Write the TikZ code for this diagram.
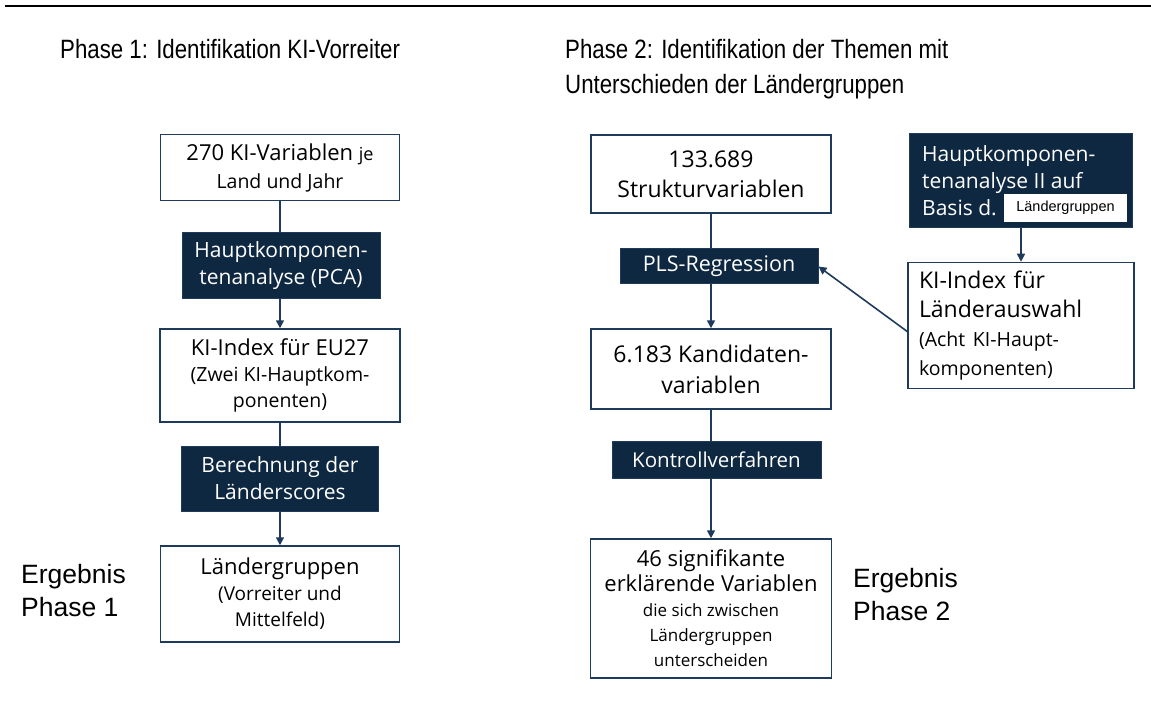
\documentclass[tikz,border=0pt]{standalone}
\usepackage{fontspec}
\setmainfont{Open Sans}
\newfontfamily\boxfont{Open Sans}
\newfontfamily\arialfont{Liberation Sans}
\newfontfamily\titlefont[FakeStretch=0.84]{Liberation Sans}
\usetikzlibrary{arrows.meta,calc}
\definecolor{navy}{HTML}{0E2841}
\definecolor{edgec}{HTML}{1F3B5C}
\newcommand\fsz[2]{\fontsize{#1}{#2}\selectfont}
\begin{document}
\begin{tikzpicture}[x=1pt,y=-1pt,
 wbox/.style={draw=edgec, line width=1.5pt, fill=white, inner sep=0pt, align=center, font=\boxfont\fsz{22}{27}},
 dbox/.style={draw=edgec, line width=1pt, fill=navy, text=white, inner sep=0pt, align=center, font=\boxfont\fsz{21}{27}},
 dtext/.style={text=white, inner sep=0pt, align=left, anchor=west, font=\boxfont\fsz{21}{27}},
 conn/.style={draw=edgec, line width=1.6pt},
 arr/.style={conn, -{Triangle[length=8pt,width=8pt]}},
 ttl/.style={anchor=north west, inner sep=0pt, font=\titlefont\fsz{26.5}{35}, align=left},
 res/.style={anchor=north west, inner sep=0pt, font=\arialfont\fsz{26.5}{33}, align=left}
]
\useasboundingbox (0,0) rectangle (1151,719);
\draw[line width=2pt] (5,6.5) -- (1151,6.5);

% titles
\node[ttl] (t1) at (60,39) {Phase 1: Identifikation KI-Vorreiter};
\node[ttl] (t2) at (565,39) {Phase 2: Identifikation der Themen mit\\Unterschieden der Ländergruppen};
\node[res] (r1) at (21,564) {Ergebnis\\Phase 1};
\node[res] (r2) at (853,568) {Ergebnis\\Phase 2};

% left column
\node[wbox, minimum width=239, minimum height=66, font=\boxfont\fsz{22}{28}] (b1) at (280,167.5)
  {270 KI-Variablen {\fsz{18}{28}je}\\{\fsz{19.5}{28}Land und Jahr}};
\node[dbox, minimum width=198, minimum height=66, font=\boxfont\fsz{21}{27}] (p1) at (281,266)
  {Hauptkomponen-\\tenanalyse (PCA)};
\node[wbox, minimum width=240, minimum height=93, font=\boxfont\fsz{22}{26}] (b2) at (280,375.5)
  {KI-Index für EU27\\{\fsz{19.5}{26}(Zwei KI-Hauptkom-}\\{\fsz{19.5}{26}ponenten)}};
\node[dbox, minimum width=197, minimum height=65] (p2) at (280,478.5)
  {Berechnung der\\Länderscores};
\node[wbox, minimum width=239, minimum height=96, font=\boxfont\fsz{22}{26}] (b3) at (280,594)
  {Ländergruppen\\{\fsz{19}{26}(Vorreiter und}\\{\fsz{19}{26}Mittelfeld)}};

% right column
\node[wbox, minimum width=240, minimum height=78, font=\boxfont\fsz{23}{30}] (s1) at (711,174)
  {133.689\\Strukturvariablen};
\node[dbox, minimum width=198, minimum height=35, font=\boxfont\fsz{21.5}{27}] (pls) at (719,266.5)
  {PLS-Regression};
\node[wbox, minimum width=240, minimum height=80, font=\boxfont\fsz{23}{31}] (s2) at (711,369)
  {6.183 Kandidaten-\\variablen};
\node[dbox, minimum width=209, minimum height=37, font=\boxfont\fsz{20.5}{27}] (kv) at (716.5,459.5)
  {Kontrollverfahren};
\node[wbox, minimum width=241, minimum height=139, font=\boxfont\fsz{22}{25}] (s3) at (711,608.5)
  {46 signifikante\\erklärende Variablen\\{\fsz{17}{25}die sich zwischen}\\{\fsz{17}{25}Ländergruppen}\\{\fsz{17}{25}unterscheiden}};

\node[dbox, minimum width=223, minimum height=94] (h2) at (1021,181) {};
\node[dtext] (h2t) at (922,180.5) {Hauptkomponen-\\tenanalyse II auf\\Basis d.};
\node[fill=white, inner sep=0pt, minimum width=123, minimum height=28, font=\arialfont\fsz{14.5}{17}] (lg) at (1065.5,208)
  {Ländergruppen};
\node[wbox, minimum width=226, minimum height=126, text width=204, inner xsep=11, align=left, font=\boxfont\fsz{23}{29}] (ki) at (1021,325.5)
  {KI-Index für\\Länderauswahl\\{\fsz{19.5}{29}(Acht KI-Haupt-}\\{\fsz{19.5}{29}komponenten)}};

% connectors
\draw[conn] (b1.south) -- (b1.south |- p1.north);
\draw[arr] (p1.south -| b2.north) -- (b2.north);
\draw[conn] (b2.south) -- (b2.south |- p2.north);
\draw[arr] (p2.south -| b3.north) -- (b3.north);

\draw[conn] (s1.south) -- (s1.south |- pls.north);
\draw[arr] (pls.south -| s2.north) -- (s2.north);
\draw[conn] (s2.south) -- (s2.south |- kv.north);
\draw[arr] (kv.south -| s3.north) -- (s3.north);
\draw[arr] (h2.south) -- (ki.north);
\draw[arr] ($(ki.west)+(0,6)$) -- (pls.east);
\end{tikzpicture}
\end{document}
